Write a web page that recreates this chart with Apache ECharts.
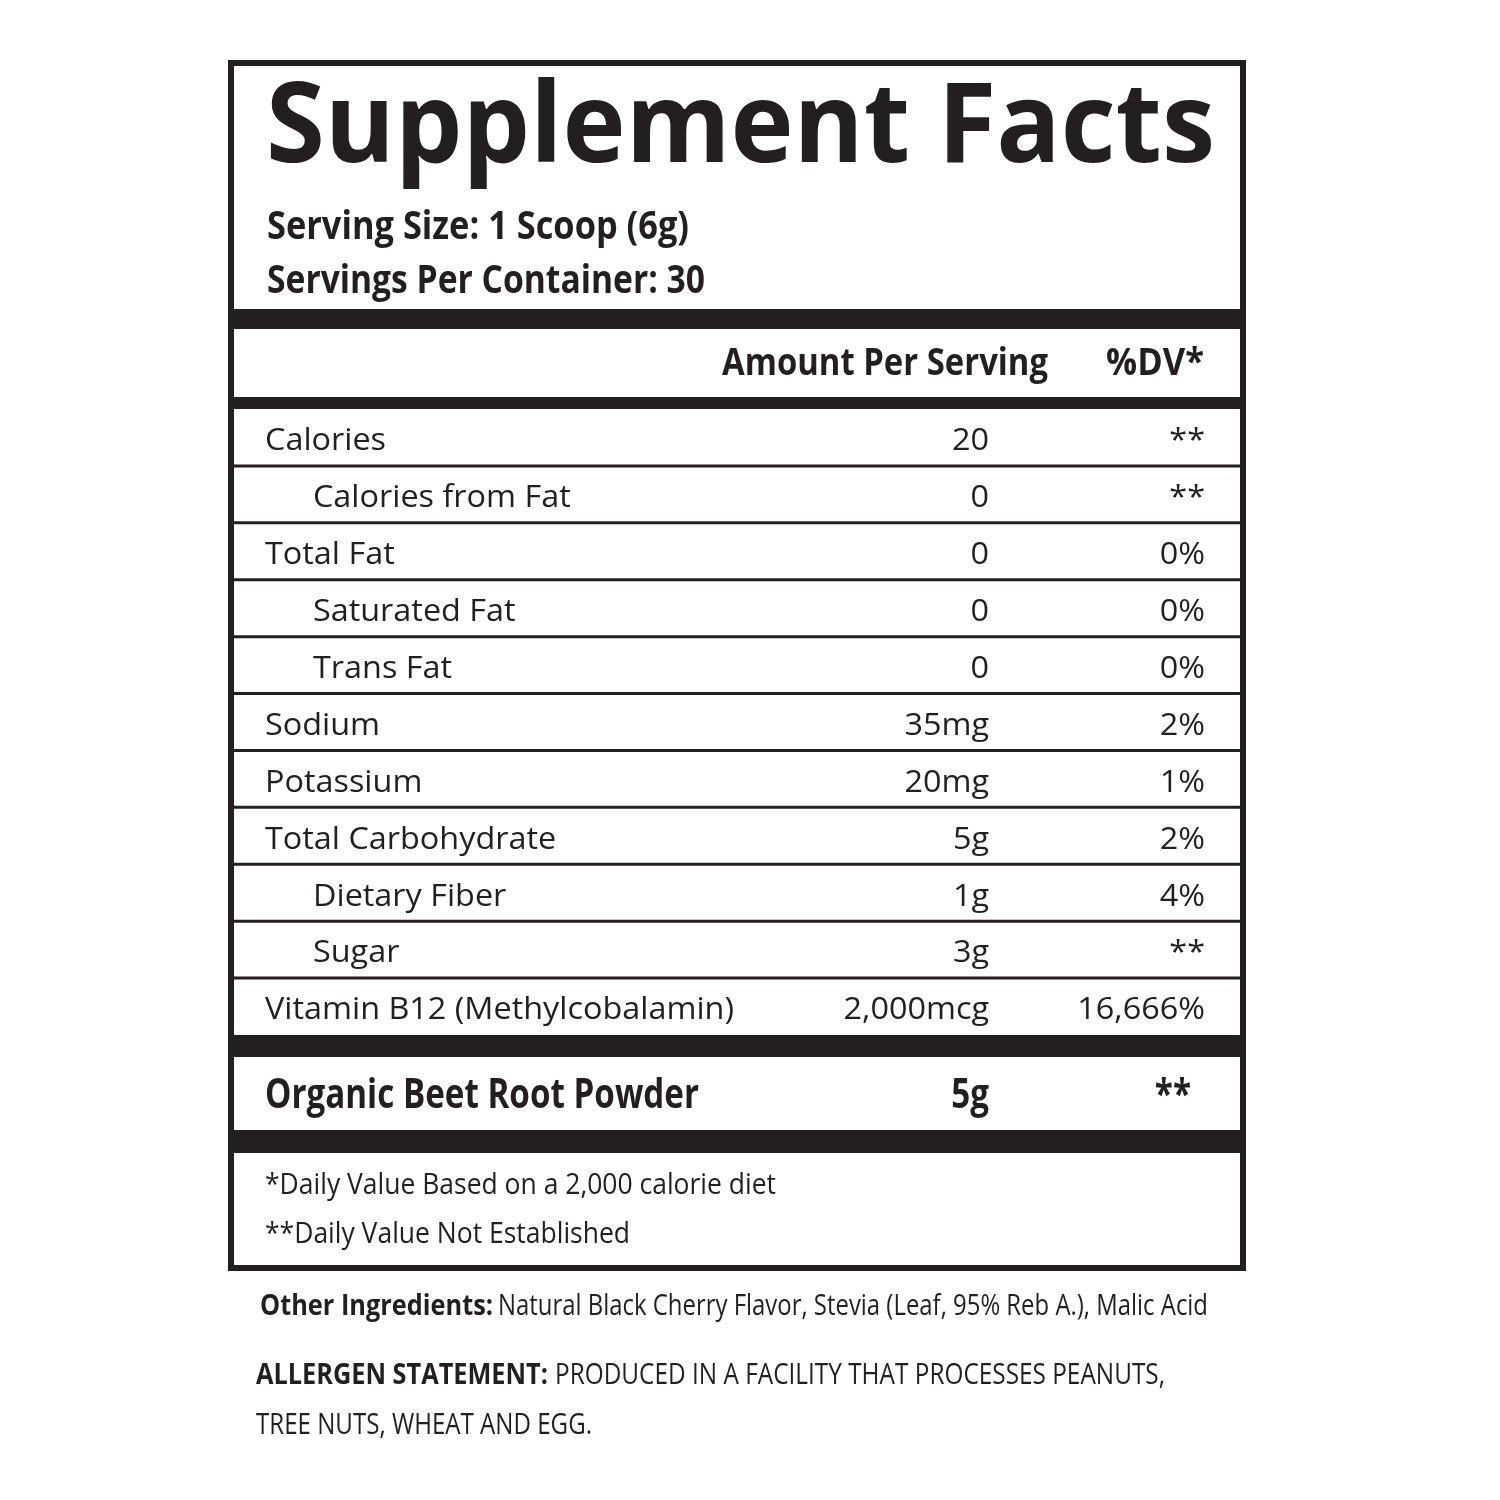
<!DOCTYPE html>
<html>
<head>
<meta charset="utf-8">
<script src="https://cdn.jsdelivr.net/npm/echarts@6/dist/echarts.min.js"></script>
<style>html,body{margin:0;padding:0;background:#fff}#c{width:1500px;height:1500px}</style>
</head>
<body>
<div id="c"></div>
<script>
// ---------------- data ----------------
const title = 'Supplement Facts';
const servingLines = ['Serving Size: 1 Scoop (6g)', 'Servings Per Container: 30'];
const headers = ['Amount Per Serving', '%DV*'];
const nutrients = ['Calories', 'Calories from Fat', 'Total Fat', 'Saturated Fat', 'Trans Fat', 'Sodium',
  'Potassium', 'Total Carbohydrate', 'Dietary Fiber', 'Sugar', 'Vitamin B12 (Methylcobalamin)'];
const subItem = [false, true, false, true, true, false, false, false, true, true, false];
const amounts = ['20', '0', '0', '0', '0', '35mg', '20mg', '5g', '1g', '3g', '2,000mcg'];
const dailyValues = ['**', '**', '0%', '0%', '0%', '2%', '1%', '2%', '4%', '**', '16,666%'];
const blendNames = ['Organic Beet Root Powder'];
const blendAmounts = ['5g'];
const blendDailyValues = ['**'];
const footnotes = ['*Daily Value Based on a 2,000 calorie diet', '**Daily Value Not Established'];
const otherIngredients = ['Other Ingredients:', 'Natural Black Cherry Flavor, Stevia (Leaf, 95% Reb A.), Malic Acid'];
const allergen = ['ALLERGEN STATEMENT:', 'PRODUCED IN A FACILITY THAT PROCESSES PEANUTS,', 'TREE NUTS, WHEAT AND EGG.'];

// ---------------- style / layout ----------------
const INK = '#231f20';
const FAM = '"Open Sans", "Noto Sans", sans-serif';
const ctx = document.createElement('canvas').getContext('2d');
function textWidth(t, size, weight) { ctx.font = weight + ' ' + size + 'px ' + FAM; return ctx.measureText(t).width; }
function fit(t, size, weight, target) { return target / textWidth(t, size, weight); }

const REG = 31;
const kReg = fit(nutrients[10], REG, 'normal', 469);
const BOLD_ROW = 41;
const kBoldRow = fit(blendNames[0], BOLD_ROW, 'bold', 434);

// column anchors as fractions of the table width
const COL = { label: 0.0308, indent: 0.0785, amount: 0.7505, dv: 0.9652, dvBlend: 0.9513 };

function txt(x, y, t, size, weight, scaleX, align) {
  return {
    type: 'text', x: x, y: y, scaleX: scaleX, scaleY: 1, silent: true,
    style: { text: t, fontSize: size, fontFamily: FAM, fontWeight: weight, fill: INK,
      align: align || 'left', verticalAlign: 'middle' }
  };
}
function bar(y1, y2) {
  return { type: 'rect', silent: true, shape: { x: 234, y: y1, width: 1006, height: y2 - y1 }, style: { fill: INK } };
}

function makeRenderer(names, amts, dvs, indentFlags, opts) {
  return function (params, api) {
    const i = api.value(1);
    const h = api.size([0, 1])[1];
    const cy = api.coord([0, i])[1];
    const xL = api.coord([0, i])[0];
    const xR = api.coord([1, i])[0];
    const ty = cy + opts.dy;
    const children = [
      txt(api.coord([indentFlags[i] ? COL.indent : COL.label, i])[0], ty, names[i], opts.size, opts.weight, opts.k, 'left'),
      txt(api.coord([COL.amount, i])[0], ty, amts[i], opts.size, opts.weight, opts.k, 'right'),
      txt(api.coord([opts.dvCol, i])[0], ty, dvs[i], opts.size, opts.weight, opts.k, 'right')
    ];
    if (opts.rule && i < names.length - 1) {
      children.push({ type: 'line', shape: { x1: xL, y1: cy + h / 2, x2: xR, y2: cy + h / 2 },
        style: { stroke: INK, lineWidth: 3 } });
    }
    return { type: 'group', children: children };
  };
}

const graphics = [
  { type: 'rect', silent: true, shape: { x: 231, y: 63, width: 1012, height: 1205 }, style: { fill: 'none', stroke: INK, lineWidth: 6 } },
  bar(309, 329), bar(397, 409), bar(1035, 1057), bar(1130, 1153),
  txt(266, 130, title, 112, 'bold', fit(title, 112, 'bold', 949), 'left'),
  txt(267, 228, servingLines[0], 40, 'bold', fit(servingLines[0], 40, 'bold', 422), 'left'),
  txt(267, 282, servingLines[1], 40, 'bold', fit(servingLines[1], 40, 'bold', 438), 'left'),
  txt(722, 364, headers[0], 38, 'bold', fit(headers[0], 38, 'bold', 326), 'left'),
  txt(1106, 364, headers[1], 38, 'bold', fit(headers[1], 38, 'bold', 98), 'left'),
  txt(265, 1185, footnotes[0], 30, 'normal', fit(footnotes[0], 30, 'normal', 511), 'left'),
  txt(265, 1234, footnotes[1], 30, 'normal', fit(footnotes[1], 30, 'normal', 365), 'left'),
  txt(260, 1307, otherIngredients[0], 29, 'bold', fit(otherIngredients[0], 29, 'bold', 233), 'left'),
  txt(498, 1307, otherIngredients[1], 29, 'normal', fit(otherIngredients[1], 29, 'normal', 710), 'left'),
  txt(256, 1376, allergen[0], 29, 'bold', fit(allergen[0], 29, 'bold', 292), 'left'),
  txt(555, 1376, allergen[1], 29, 'normal', fit(allergen[1], 29, 'normal', 610), 'left'),
  txt(256, 1426, allergen[2], 29, 'normal', fit(allergen[2], 29, 'normal', 336), 'left')
];

const chart = echarts.init(document.getElementById('c'), null, { renderer: 'canvas', width: 1500, height: 1500 });
chart.setOption({
  animation: false,
  backgroundColor: '#ffffff',
  grid: [
    { left: 234, top: 409, width: 1006, height: 626 },
    { left: 234, top: 1057, width: 1006, height: 73 }
  ],
  xAxis: [
    { type: 'value', gridIndex: 0, min: 0, max: 1, show: false },
    { type: 'value', gridIndex: 1, min: 0, max: 1, show: false }
  ],
  yAxis: [
    { type: 'category', gridIndex: 0, data: nutrients, inverse: true, show: false },
    { type: 'category', gridIndex: 1, data: blendNames, inverse: true, show: false }
  ],
  graphic: { elements: graphics },
  series: [
    {
      type: 'custom', xAxisIndex: 0, yAxisIndex: 0, clip: false,
      encode: { x: 0, y: 1 },
      data: nutrients.map((n, i) => [0, i]),
      renderItem: makeRenderer(nutrients, amounts, dailyValues, subItem,
        { size: REG, weight: 'normal', k: kReg, dy: 4, dvCol: COL.dv, rule: true })
    },
    {
      type: 'custom', xAxisIndex: 1, yAxisIndex: 1, clip: false,
      encode: { x: 0, y: 1 },
      data: blendNames.map((n, i) => [0, i]),
      renderItem: makeRenderer(blendNames, blendAmounts, blendDailyValues, [false],
        { size: BOLD_ROW, weight: 'bold', k: kBoldRow, dy: 3, dvCol: COL.dvBlend, rule: false })
    }
  ]
});
</script>
</body>
</html>
